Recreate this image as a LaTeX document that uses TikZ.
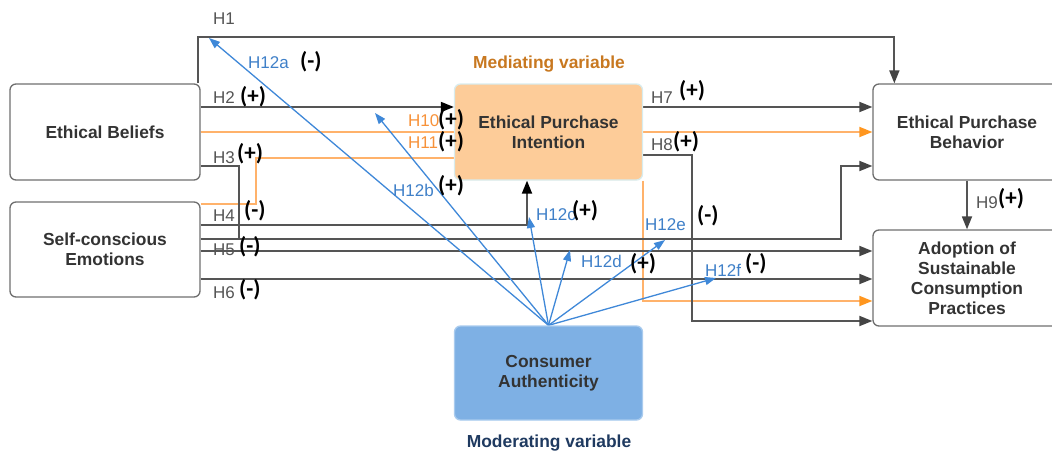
\documentclass[tikz,border=0pt]{standalone}
\usepackage{fontspec}
\setmainfont{Liberation Sans}
\newfontfamily\signfont{Carlito}
\usetikzlibrary{arrows.meta,calc}
\pgfdeclarelayer{bg}
\pgfsetlayers{bg,main}

\definecolor{lineg}{HTML}{555555}
\definecolor{tipg}{HTML}{444444}
\definecolor{boxline}{HTML}{6E6E6E}
\definecolor{boxtext}{HTML}{333333}
\definecolor{labgray}{HTML}{555555}
\definecolor{orline}{HTML}{FFB26B}
\definecolor{ortip}{HTML}{FF961F}
\definecolor{orlab}{HTML}{F7923A}
\definecolor{blline}{HTML}{3F88D8}
\definecolor{bllab}{HTML}{3F80C8}
\definecolor{epifill}{HTML}{FDCC99}
\definecolor{epiline}{HTML}{D8ECEE}
\definecolor{cafill}{HTML}{7EB0E4}
\definecolor{caline}{HTML}{A9CBEE}
\definecolor{medcol}{HTML}{C87820}
\definecolor{modcol}{HTML}{1F3A60}

\tikzset{
  box/.style={draw=boxline, line width=1.3pt, rounded corners=6pt,
    minimum width=190pt, minimum height=96pt, align=center, inner sep=0pt,
    font=\fontsize{17.4}{20}\selectfont\bfseries, text=boxtext},
  hlab/.style={font=\fontsize{17}{20}\selectfont, text=labgray, anchor=base west, inner sep=0pt},
  olab/.style={hlab, text=orlab},
  blab/.style={hlab, text=bllab},
  sgn/.style={font=\signfont\fontsize{23}{23}\selectfont\bfseries, text=black, anchor=base west, inner sep=0pt},
  caption/.style={font=\fontsize{17.4}{20}\selectfont\bfseries, anchor=base, inner sep=0pt},
  glink/.style={draw=lineg, line width=1.8pt, -{Triangle[length=13pt,width=10pt,color=tipg]}},
  gplain/.style={draw=lineg, line width=1.8pt},
  klink/.style={draw=lineg, line width=1.8pt, -{Triangle[length=13pt,width=10pt,color=black]}},
  olink/.style={draw=orline, line width=1.8pt, -{Triangle[length=13pt,width=10pt,color=ortip]}},
  oplain/.style={draw=orline, line width=1.8pt},
  blink/.style={draw=blline, line width=1.3pt, -{Triangle[length=11pt,width=8pt]}}
}

\begin{document}
\begin{tikzpicture}[x=1pt,y=-1pt]
\useasboundingbox (0,0) rectangle (1052,452);
\clip (0,0) rectangle (1052,452);

% variables
\node[box] (eb) at (105,132) {Ethical Beliefs};
\node[box, minimum height=95pt] (sce) at (105,249.5) {Self-conscious\\Emotions};
\node[box, fill=epifill, draw=epiline, minimum width=188pt] (epi) at (548.5,132) {Ethical Purchase\\Intention};
\node[box, minimum width=188pt] (epb) at (967,132) {Ethical Purchase\\Behavior};
\node[box, minimum width=188pt] (adopt) at (967,278) {Adoption of\\Sustainable\\Consumption\\Practices};
\node[box, fill=cafill, draw=caline, minimum width=188pt, minimum height=94pt] (ca) at (548.5,373) {Consumer\\Authenticity};

\node[caption, text=medcol] (medcap) at (549,69) {Mediating variable};
\node[caption, text=modcol] (modcap) at (549,447) {Moderating variable};

% lane levels and turning columns
\coordinate (y107) at (0,107);
\coordinate (y132) at (0,132);
\coordinate (y155) at (0,155);
\coordinate (y158) at (0,158);
\coordinate (y166) at (0,166);
\coordinate (y204) at (0,204);
\coordinate (y225) at (0,225);
\coordinate (y239) at (0,239);
\coordinate (y251) at (0,251);
\coordinate (y279) at (0,279);
\coordinate (y301) at (0,301);
\coordinate (y321) at (0,321);
\coordinate (x239) at (239,0);
\coordinate (x256) at (256,0);
\coordinate (x527) at (527,0);
\coordinate (x692) at (692,0);
\coordinate (x841) at (841,0);

% ends of the moderating arrows
\coordinate (m1) at (209,38);
\coordinate (m2) at (375,113);
\coordinate (m3) at (529,217);
\coordinate (m4) at (570,250);
\coordinate (m5) at (665,240);
\coordinate (m6) at (716,278);

\begin{pgfonlayer}{bg}
  % H1
  \draw[glink] ([xshift=-3pt]eb.north east) -- ++(0,-46) -| ([xshift=22pt]epb.north west);
  % H2, H7
  \draw[klink] (eb.east |- y107) -- (epi.west |- y107);
  \draw[glink] (epi.east |- y107) -- (epb.west |- y107);
  % mediated paths (orange)
  \draw[olink] (eb.east |- y132) -- (epb.west |- y132);
  \draw[oplain] (sce.east |- y204) -| (x256 |- y158) -- (epi.west |- y158);
  \draw[olink] (epi.south east) -- (epi.east |- y301) -- (adopt.west |- y301);
  % H3
  \draw[gplain] (eb.east |- y166) -| (x239 |- y239);
  % H4
  \draw[klink] (sce.east |- y225) -| (x527 |- epi.south);
  % H5
  \draw[glink] (sce.east |- y239) -| (x841 |- y166) -- (epb.west |- y166);
  % H6 and the other emotion paths
  \draw[glink] (sce.east |- y251) -- (adopt.west |- y251);
  \draw[glink] (sce.east |- y279) -- (adopt.west |- y279);
  % H8
  \draw[glink] (epi.east |- y155) -| (x692 |- y321) -- (adopt.west |- y321);
  % H9
  \draw[glink] (epb.south) -- (adopt.north);
  % moderation (blue)
  \foreach \m in {m1,m2,m3,m4,m5,m6}
    \draw[blink] (ca.north) -- (\m);
\end{pgfonlayer}

% hypothesis labels
\node[hlab] (l1) at (213,25) {H1};
\node[blab] (l12a) at (248,68) {H12a};
\node[sgn] (s12a) at (300,68.5) {(-)};
\node[hlab] (l2) at (213,103) {H2};
\node[sgn] (s2) at (240,103) {(+)};
\node[hlab] (l3) at (213,163) {H3};
\node[sgn] (s3) at (237,160.5) {(+)};
\node[hlab] (l4) at (213,221) {H4};
\node[sgn] (s4) at (244,217.5) {(-)};
\node[hlab] (l5) at (213,255) {H5};
\node[sgn] (s5) at (239,253) {(-)};
\node[hlab] (l6) at (213,298) {H6};
\node[sgn] (s6) at (239,296.5) {(-)};
\node[olab] (l10) at (408,126) {H10};
\node[sgn] (s10) at (438,126) {(+)};
\node[olab] (l11) at (408,148) {H11};
\node[sgn] (s11) at (438,148) {(+)};
\node[blab] (l12b) at (393,196) {H12b};
\node[sgn] (s12b) at (438,192) {(+)};
\node[blab] (l12c) at (536,220) {H12c};
\node[sgn] (s12c) at (572,217) {(+)};
\node[blab] (l12d) at (581,267) {H12d};
\node[sgn] (s12d) at (630,270) {(+)};
\node[blab] (l12e) at (645,230) {H12e};
\node[sgn] (s12e) at (697,222) {(-)};
\node[blab] (l12f) at (705,276) {H12f};
\node[sgn] (s12f) at (745,270) {(-)};
\node[hlab] (l7) at (651,103) {H7};
\node[sgn] (s7) at (679,97) {(+)};
\node[hlab] (l8) at (651,150) {H8};
\node[sgn] (s8) at (673,148) {(+)};
\node[hlab] (l9) at (976,208) {H9};
\node[sgn] (s9) at (998,205) {(+)};
\end{tikzpicture}
\end{document}
